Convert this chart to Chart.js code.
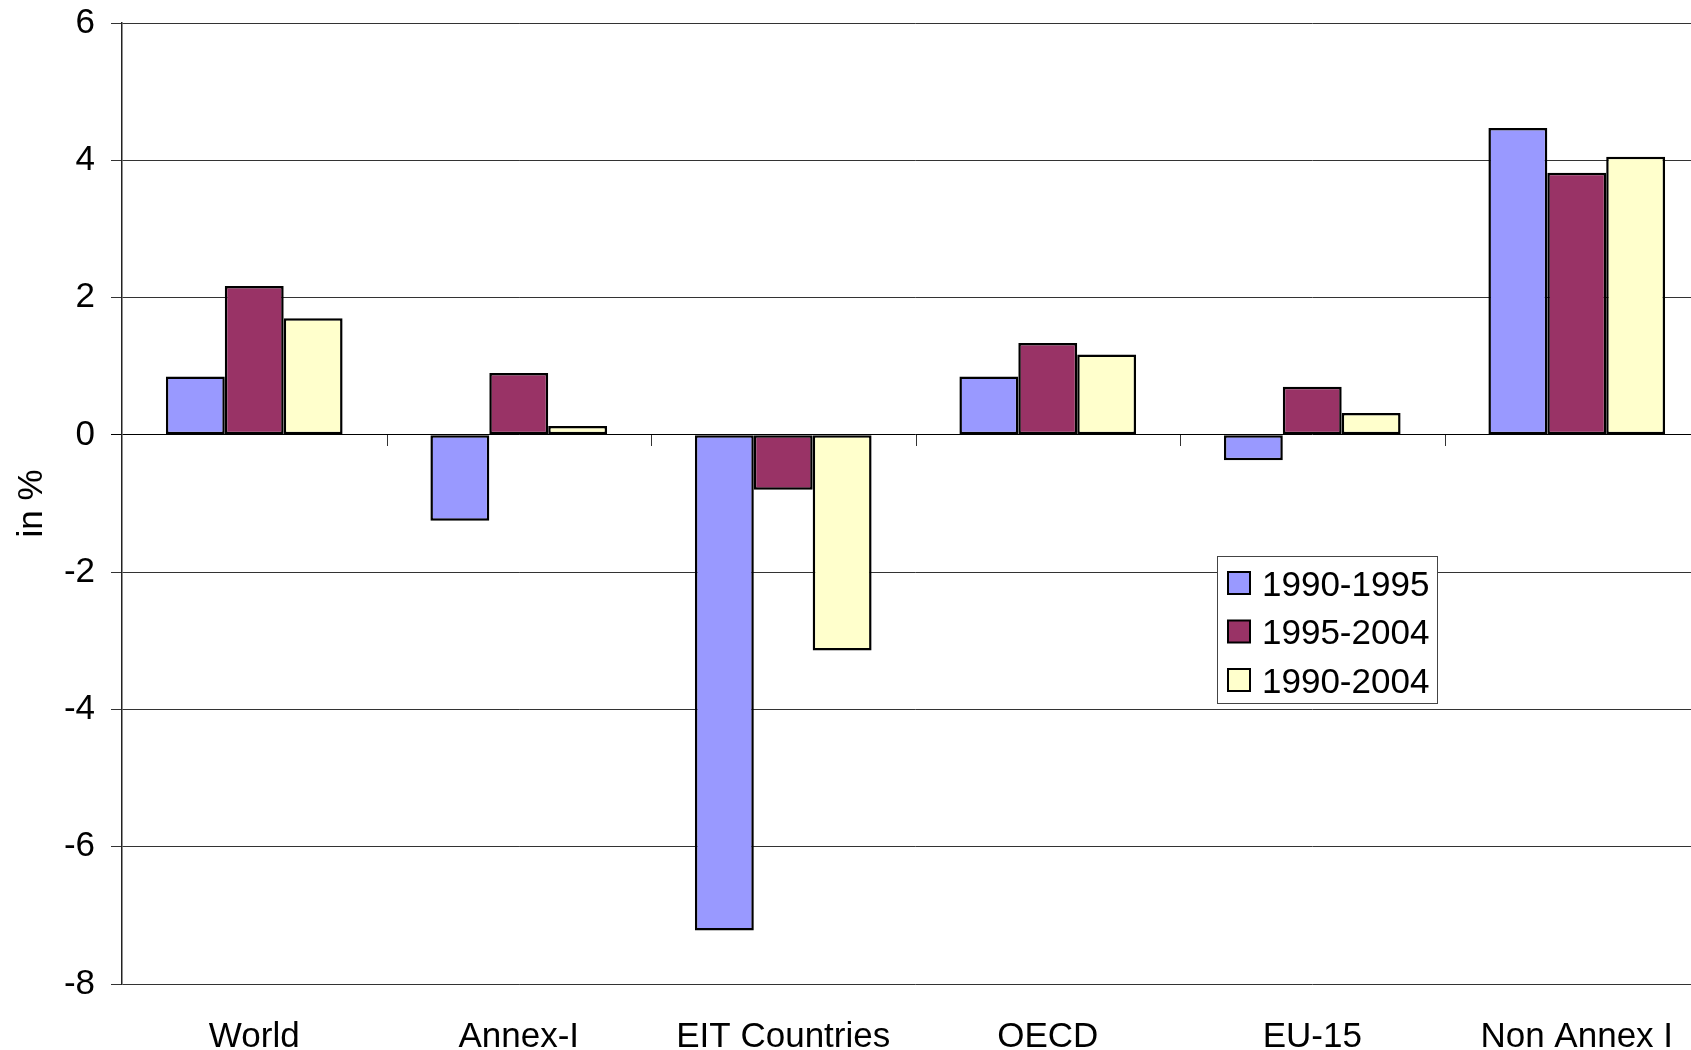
<!DOCTYPE html>
<html>
<head>
<meta charset="utf-8">
<script src="https://cdn.jsdelivr.net/npm/chart.js@4.4.0/dist/chart.umd.min.js"></script>
<style>
  html, body { margin: 0; padding: 0; background: #fff; overflow: hidden; }
  #wrap { width: 1709px; height: 1050px; }
</style>
</head>
<body>
<div id="wrap"><canvas id="chart" width="1709" height="1050"></canvas></div>
<script>
// data
const categories = ["World", "Annex-I", "EIT Countries", "OECD", "EU-15", "Non Annex I"];
const seriesLabels = ["1990-1995", "1995-2004", "1990-2004"];
const values1990_1995 = [0.85, -1.25, -7.22, 0.85, -0.37, 4.47];
const values1995_2004 = [2.17, 0.90, -0.80, 1.34, 0.70, 3.82];
const values1990_2004 = [1.70, 0.13, -3.14, 1.17, 0.32, 4.05];
const yMin = -8, yMax = 6, yStep = 2;

const seriesColors = ["#9999FF", "#993366", "#FFFFCC"];
const FONT = "'Liberation Sans', Arial, sans-serif";

Chart.defaults.font.family = FONT;
Chart.defaults.font.size = 35;
Chart.defaults.color = "#000";

// little ticks below the zero line between categories (excel style)
const zeroTicks = {
  id: "zeroTicks",
  afterDatasetsDraw(chart) {
    const ctx = chart.ctx, x = chart.scales.x, y = chart.scales.y;
    const y0 = Math.round(y.getPixelForValue(0));
    ctx.save();
    ctx.strokeStyle = "#333";
    ctx.lineWidth = 1;
    ctx.beginPath();
    for (let i = 1; i < categories.length; i++) {
      const bx = Math.round((x.getPixelForValue(i - 1) + x.getPixelForValue(i)) / 2) + 0.5;
      ctx.moveTo(bx, y0);
      ctx.lineTo(bx, y0 + 11);
    }
    ctx.stroke();
    ctx.restore();
  }
};

// boxed legend sitting inside the plot
const boxLegend = {
  id: "boxLegend",
  afterDraw(chart, args, opts) {
    const ctx = chart.ctx;
    const { left, top, width, height, firstRow, rowHeight, swatch } = opts;
    ctx.save();
    ctx.fillStyle = "#fff";
    ctx.fillRect(left, top, width, height);
    ctx.strokeStyle = "#444";
    ctx.lineWidth = 1;
    ctx.strokeRect(left + 0.5, top + 0.5, width, height);
    ctx.font = "35px " + FONT;
    ctx.textBaseline = "alphabetic";
    chart.data.datasets.forEach((ds, i) => {
      const cy = top + firstRow + i * rowHeight;
      ctx.fillStyle = ds.backgroundColor;
      ctx.fillRect(left + 11, cy - swatch / 2, swatch, swatch);
      ctx.strokeStyle = "#000";
      ctx.lineWidth = 2;
      ctx.strokeRect(left + 11, cy - swatch / 2, swatch, swatch);
      ctx.fillStyle = "#000";
      ctx.fillText(ds.label, left + 45, cy + 12.5);
    });
    ctx.restore();
  }
};

const makeSet = (label, data, color) => ({
  label: label,
  data: data,
  backgroundColor: color,
  borderColor: "#000",
  borderWidth: 2.5,
  borderSkipped: false,
  barPercentage: 1,
  categoryPercentage: 0.668
});

new Chart(document.getElementById("chart"), {
  type: "bar",
  data: {
    labels: categories,
    datasets: [
      makeSet(seriesLabels[0], values1990_1995, seriesColors[0]),
      makeSet(seriesLabels[1], values1995_2004, seriesColors[1]),
      makeSet(seriesLabels[2], values1990_2004, seriesColors[2])
    ]
  },
  options: {
    responsive: false,
    animation: false,
    devicePixelRatio: 1,
    layout: { padding: { top: 23, left: 0, right: 0, bottom: 0 } },
    plugins: {
      legend: { display: false },
      tooltip: { enabled: false },
      boxLegend: { left: 1217, top: 556, width: 220, height: 147, firstRow: 27, rowHeight: 48.5, swatch: 22 }
    },
    scales: {
      x: {
        grid: { display: false, drawTicks: false },
        border: { display: false },
        ticks: { padding: 32, maxRotation: 0, autoSkip: false },
        afterFit(s) { s.height = 66; }
      },
      y: {
        min: yMin,
        max: yMax,
        ticks: { stepSize: yStep, padding: 16 },
        grid: {
          color: (c) => (c.tick && c.tick.value === 0 ? "#000" : "#333"),
          lineWidth: 1,
          tickLength: 11
        },
        border: { display: true, color: "#222", width: 1.5 },
        title: { display: true, text: "in %", padding: { top: 11, bottom: 0 } },
        afterFit(s) {
          s.width = 122;
          s.paddingTop = 0;
          s.paddingBottom = 0;
        }
      }
    }
  },
  plugins: [zeroTicks, boxLegend]
});
</script>
</body>
</html>
